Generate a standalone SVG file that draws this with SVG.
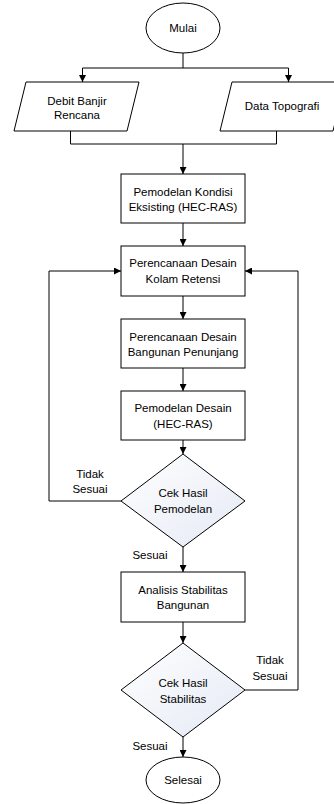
<svg xmlns="http://www.w3.org/2000/svg" width="334" height="804" viewBox="0 0 334 804">
<style>
.s{fill:#fff;stroke:#000;stroke-width:1}
.d{fill:url(#g);stroke:#000;stroke-width:1}
.c{fill:none;stroke:#000;stroke-width:1}
text{font-family:"Liberation Sans",Arial,sans-serif;font-size:11.5px;fill:#000;text-anchor:middle}
</style>
<defs>
<linearGradient id="g" x1="0" y1="0" x2="1" y2="1">
<stop offset="0" stop-color="#ffffff"/>
<stop offset="1" stop-color="#e4e9f4"/>
</linearGradient>
<marker id="a" viewBox="0 0 10 10" refX="10" refY="5" markerWidth="7" markerHeight="7" markerUnits="userSpaceOnUse" orient="auto">
<path d="M0,0 L10,5 L0,10 z" fill="#000"/>
</marker>
</defs>
<g id="connectors">
<path class="c" d="M183,53 V68 M82.5,68 H288.5"/>
<path class="c" d="M82.5,68 V82" marker-end="url(#a)"/>
<path class="c" d="M288.5,68 V82" marker-end="url(#a)"/>
<path class="c" d="M70.5,131 V144 H276.5 V131"/>
<path class="c" d="M183,144 V174" marker-end="url(#a)"/>
<path class="c" d="M183,223 V246" marker-end="url(#a)"/>
<path class="c" d="M183,296 V319" marker-end="url(#a)"/>
<path class="c" d="M183,368 V391" marker-end="url(#a)"/>
<path class="c" d="M183,440 V454" marker-end="url(#a)"/>
<path class="c" d="M183,547 V572" marker-end="url(#a)"/>
<path class="c" d="M183,622 V643" marker-end="url(#a)"/>
<path class="c" d="M183,737 V757" marker-end="url(#a)"/>
<path class="c" d="M121,501 H49 V271 H121" marker-end="url(#a)"/>
<path class="c" d="M245,690 H298 V271 H245" marker-end="url(#a)"/>
<text x="90" y="478">Tidak</text>
<text x="90" y="493">Sesuai</text>
<text x="150" y="559">Sesuai</text>
<text x="270" y="664">Tidak</text>
<text x="270" y="680">Sesuai</text>
<text x="150" y="750">Sesuai</text>
</g>
<g id="mulai">
<ellipse class="s" cx="183" cy="28" rx="37" ry="25"/>
<text x="183" y="32">Mulai</text>
</g>
<g id="debit">
<polygon class="s" points="26,82 139,82 127,131 14,131"/>
<text x="77" y="105">Debit Banjir</text>
<text x="77" y="119">Rencana</text>
</g>
<g id="topografi">
<polygon class="s" points="232,82 345,82 333,131 220,131"/>
<text x="282" y="110">Data Topografi</text>
</g>
<g id="kondisi">
<rect class="s" x="121" y="174" width="124" height="49"/>
<text x="183" y="196">Pemodelan Kondisi</text>
<text x="183" y="211">Eksisting (HEC-RAS)</text>
</g>
<g id="kolam">
<rect class="s" x="121" y="246" width="124" height="50"/>
<text x="183" y="267">Perencanaan Desain</text>
<text x="183" y="283">Kolam Retensi</text>
</g>
<g id="penunjang">
<rect class="s" x="121" y="319" width="124" height="49"/>
<text x="183" y="341">Perencanaan Desain</text>
<text x="183" y="356">Bangunan Penunjang</text>
</g>
<g id="desain">
<rect class="s" x="121" y="391" width="124" height="49"/>
<text x="183" y="412">Pemodelan Desain</text>
<text x="183" y="428">(HEC-RAS)</text>
</g>
<g id="cek1">
<polygon class="d" points="183,454 245,501 183,547 121,501"/>
<text x="183" y="497">Cek Hasil</text>
<text x="183" y="513">Pemodelan</text>
</g>
<g id="stabilitas">
<rect class="s" x="121" y="572" width="124" height="50"/>
<text x="183" y="594">Analisis Stabilitas</text>
<text x="183" y="609">Bangunan</text>
</g>
<g id="cek2">
<polygon class="d" points="183,643 245,690 183,737 121,690"/>
<text x="183" y="687">Cek Hasil</text>
<text x="183" y="703">Stabilitas</text>
</g>
<g id="selesai">
<ellipse class="s" cx="183" cy="780" rx="37" ry="23"/>
<text x="183" y="784">Selesai</text>
</g>
</svg>
